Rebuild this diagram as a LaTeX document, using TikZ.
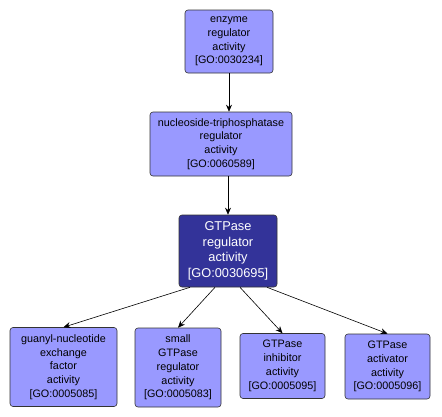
\documentclass[tikz,border=0pt]{standalone}
\usepackage{fontspec}
\setmainfont{Liberation Sans}
\usepackage{tikz}
\usetikzlibrary{arrows.meta,calc}

\definecolor{termfill}{HTML}{9999FF}
\definecolor{termdark}{HTML}{333399}

\begin{document}
\begin{tikzpicture}[>={Stealth[length=7pt,width=6pt]}, x=1pt, y=-1pt,
  term/.style={draw=black!80, fill=termfill, rounded corners=3pt, align=center,
    inner sep=0pt, line width=0.6pt, font=\fontsize{10.8}{13.8}\selectfont},
  focus/.style={term, fill=termdark, text=white, font=\fontsize{12.8}{15.5}\selectfont},
  edge/.style={->, black, line width=0.6pt}]
  \useasboundingbox (0,0) rectangle (442,416);
  % upper chain
  \node[term, minimum width=88pt, minimum height=63pt] (era) at (229,41.5)
    {enzyme\\regulator\\activity\\{[GO:0030234]}};
  \node[term, minimum width=142pt, minimum height=64pt] (ntp) at (221,144)
    {nucleoside-triphosphatase\\regulator\\activity\\{[GO:0060589]}};
  \node[focus, minimum width=98pt, minimum height=72pt] (gtp) at (228,251)
    {GTPase\\regulator\\activity\\{[GO:0030695]}};
  % children
  \node[term, minimum width=107pt, minimum height=79pt] (gef) at (63.5,367)
    {guanyl-nucleotide\\exchange\\factor\\activity\\{[GO:0005085]}};
  \node[term, minimum width=86pt, minimum height=79pt] (sgr) at (178,367.5)
    {small\\GTPase\\regulator\\activity\\{[GO:0005083]}};
  \node[term, minimum width=85pt, minimum height=65pt] (gia) at (282.5,366)
    {GTPase\\inhibitor\\activity\\{[GO:0005095]}};
  \node[term, minimum width=85pt, minimum height=65pt] (gaa) at (387.5,366.5)
    {GTPase\\activator\\activity\\{[GO:0005096]}};
  \draw[edge] (era.south) -- (era.south |- ntp.north);
  \draw[edge] (gtp.north |- ntp.south) -- (gtp.north);
  \draw[edge] ($(gtp.south)+(-38,0)$) -- (gef.north);
  \draw[edge] ($(gtp.south)+(-13,0)$) -- (sgr.north);
  \draw[edge] ($(gtp.south)+(12,0)$) -- (gia.north);
  \draw[edge] ($(gtp.south)+(39,0)$) -- (gaa.north);
\end{tikzpicture}
\end{document}
